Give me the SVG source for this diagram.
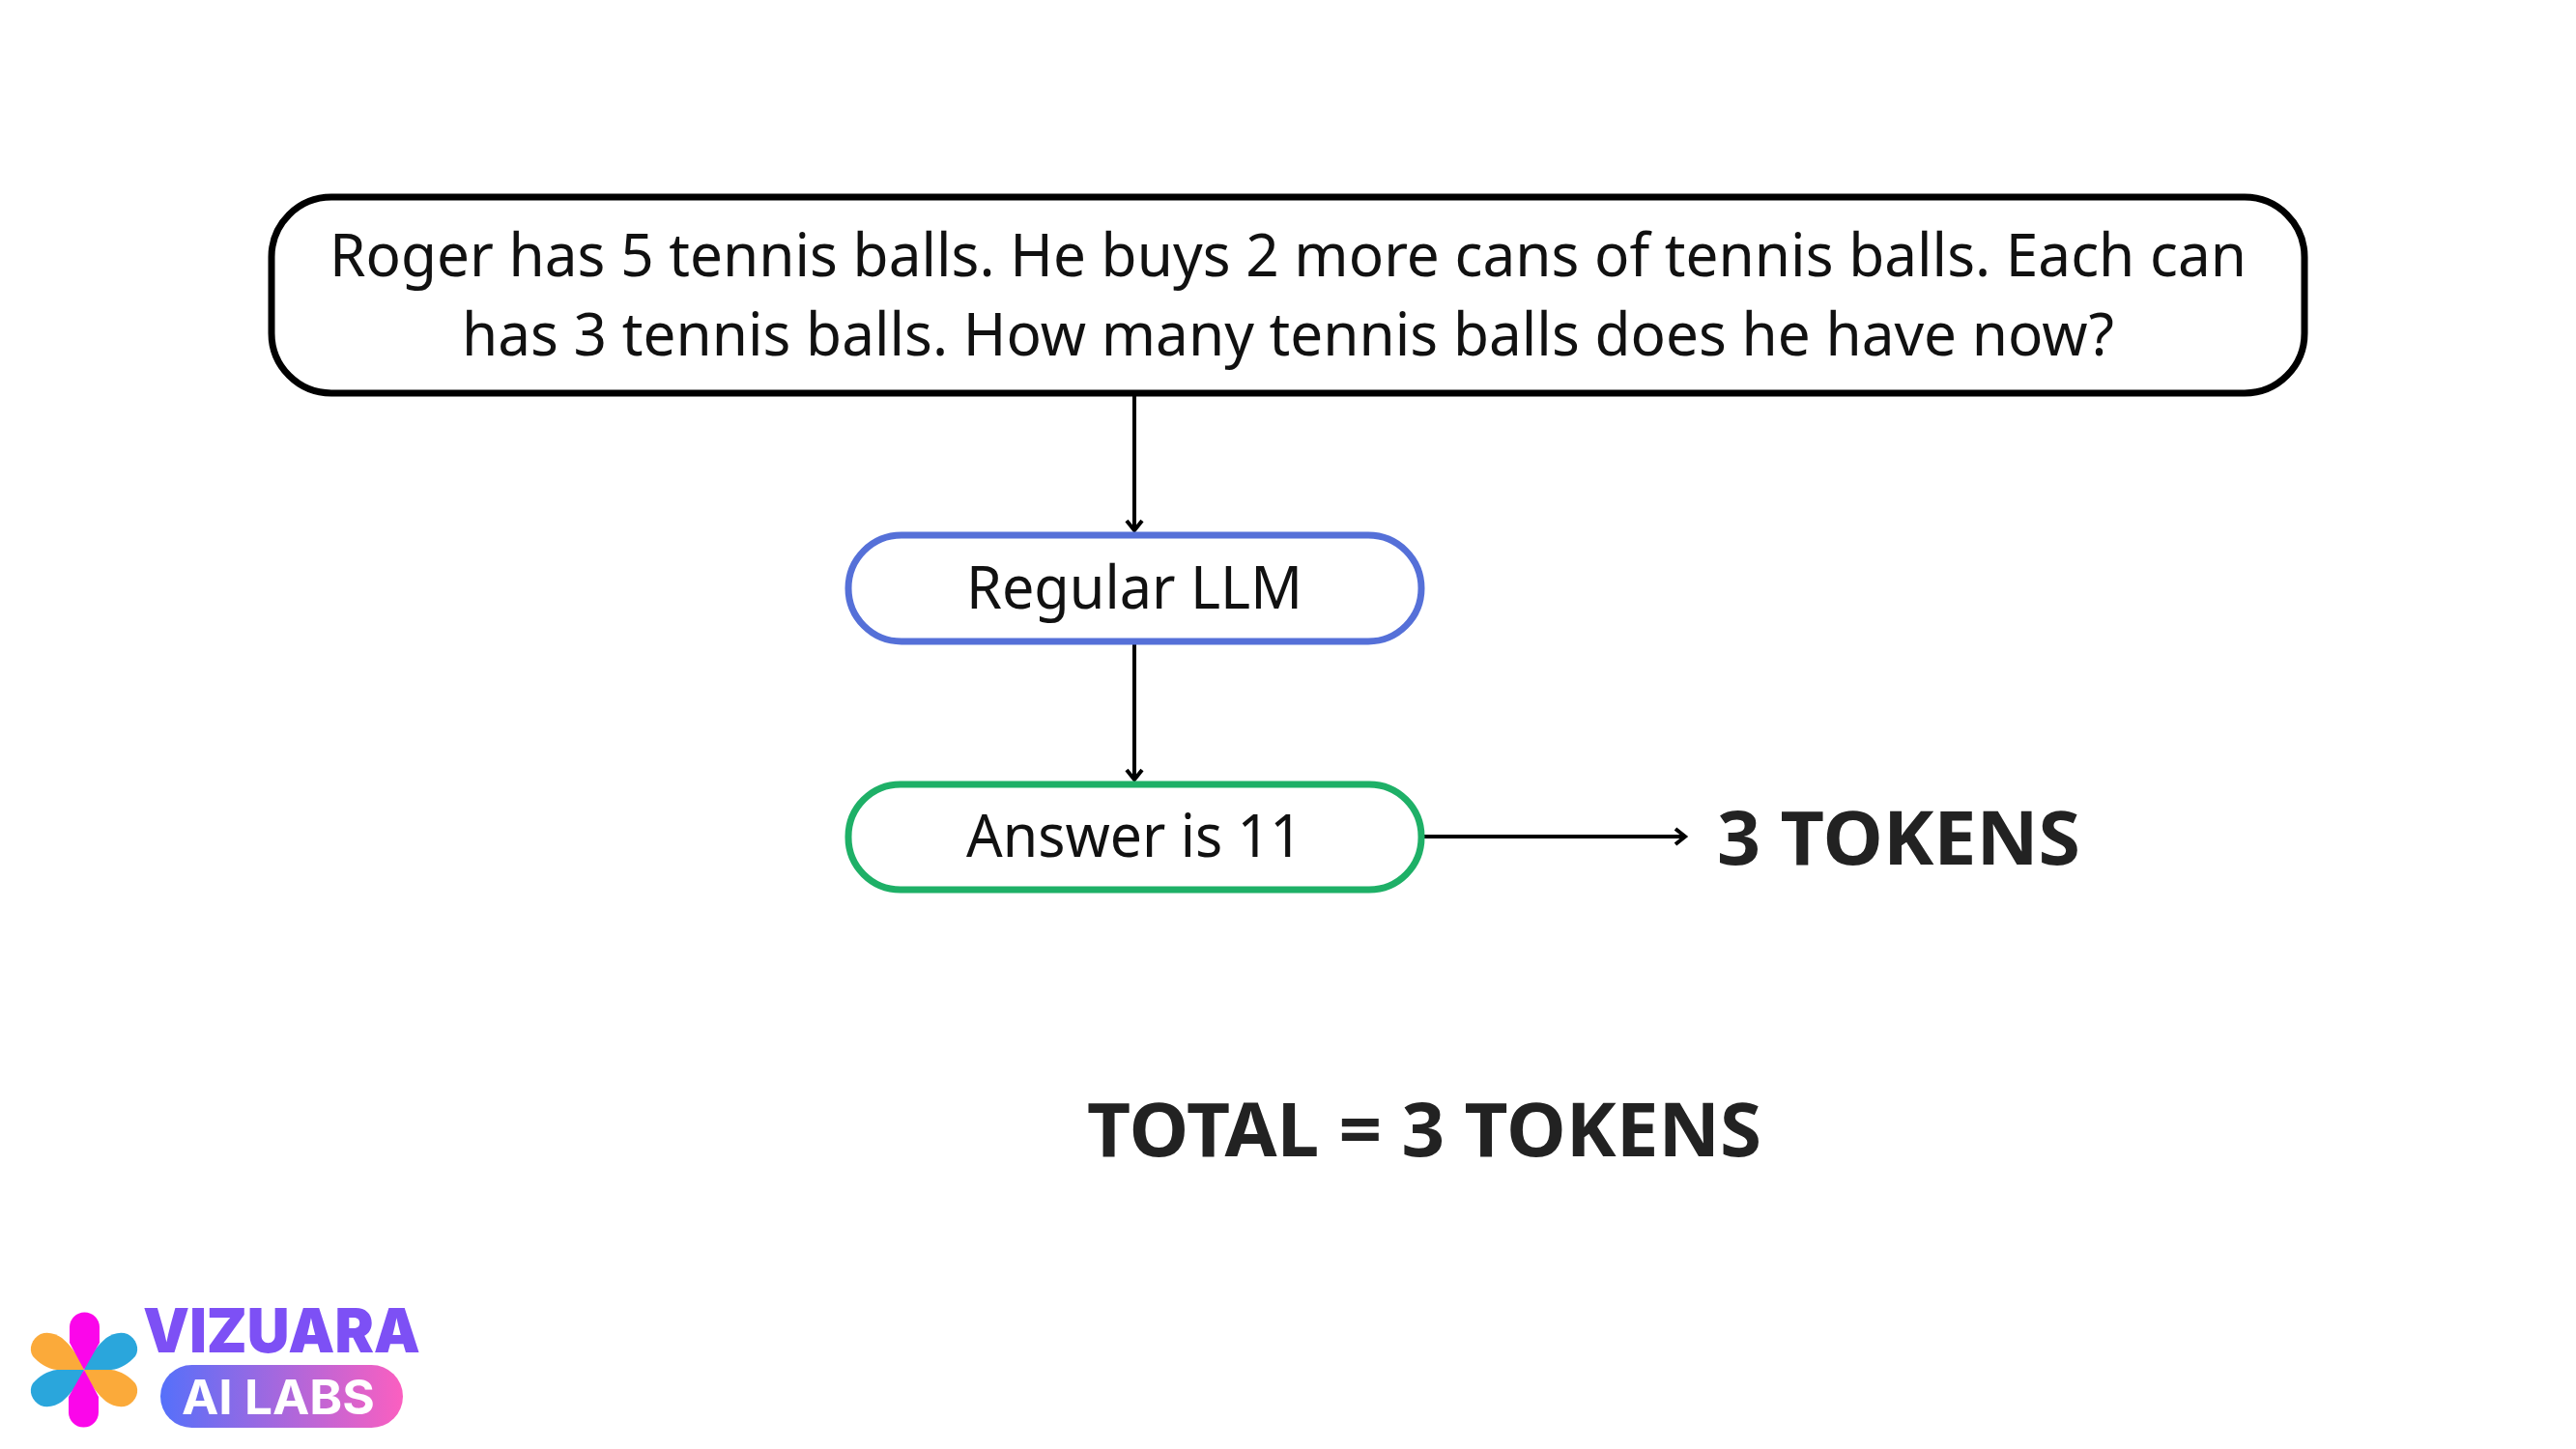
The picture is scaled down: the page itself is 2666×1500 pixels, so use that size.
<svg xmlns="http://www.w3.org/2000/svg" width="2666" height="1500" viewBox="0 0 2666 1500">
<style>
.b{fill:#fff;stroke-width:7}
.t{font-family:"Noto Sans","Open Sans",sans-serif;font-size:62px;fill:#111;text-anchor:middle}
.h{font-family:"Noto Sans","Open Sans",sans-serif;font-weight:700;font-size:77px;fill:#222;text-anchor:middle}
.c{fill:none;stroke:#000;stroke-width:4;marker-end:url(#a)}
</style>
<defs>
<marker id="a" markerUnits="userSpaceOnUse" markerWidth="24" markerHeight="24" refX="16" refY="12" orient="auto"><path d="M6 4L16 12L6 20" fill="none" stroke="#000" stroke-width="4"/></marker>
<linearGradient id="g"><stop offset="0" stop-color="#5570fa"/><stop offset="1" stop-color="#fb5fc0"/></linearGradient>
<path id="m" d="M87 1418L72 1390V1374A15.5 15.5 0 0 1 103 1374V1390Z"/>
<path id="p" d="M87 1418L115 1418C125 1417 134 1411 140 1404C145 1396 141 1386 132 1381C124 1378 116 1381 110 1385C102 1392 93 1402 87 1418Z"/>
</defs>
<rect width="2666" height="1500" fill="#fff"/>
<g id="connectors">
<path class="c" d="M1174 408V549"/>
<path class="c" d="M1174 667V807"/>
<path class="c" d="M1474 866H1744"/>
</g>
<g id="question">
<rect class="b" x="281" y="204" width="2104" height="203" rx="62" stroke="#000"/>
<text class="t" x="1333" y="286" textLength="1984" lengthAdjust="spacingAndGlyphs">Roger has 5 tennis balls. He buys 2 more cans of tennis balls. Each can</text>
<text class="t" x="1333" y="368" textLength="1710" lengthAdjust="spacingAndGlyphs">has 3 tennis balls. How many tennis balls does he have now?</text>
</g>
<g id="llm">
<rect class="b" x="878" y="554" width="593" height="110" rx="55" stroke="#5570d8"/>
<text class="t" x="1174" y="630" textLength="348" lengthAdjust="spacingAndGlyphs">Regular LLM</text>
</g>
<g id="answer">
<rect class="b" x="878" y="812" width="593" height="109" rx="54" stroke="#1eb067"/>
<text class="t" x="1174" y="887" textLength="348" lengthAdjust="spacingAndGlyphs">Answer is 11</text>
</g>
<g id="tokens"><text class="h" x="1965" y="895" textLength="376" lengthAdjust="spacingAndGlyphs">3 TOKENS</text></g>
<g id="total"><text class="h" x="1474" y="1197" textLength="698" lengthAdjust="spacingAndGlyphs">TOTAL = 3 TOKENS</text></g>
<g id="logo">
<use href="#p" fill="#2aa6dc"/>
<use href="#p" fill="#2aa6dc" transform="rotate(180 87 1418)"/>
<use href="#p" fill="#fbaa3a" transform="matrix(-1 0 0 1 174 0)"/>
<use href="#p" fill="#fbaa3a" transform="matrix(1 0 0 -1 0 2836)"/>
<use href="#m" fill="#fb06ea"/>
<use href="#m" fill="#fb06ea" transform="rotate(180 87 1418)"/>
<text x="148" y="1400" font-family="Inter,sans-serif" font-weight="900" font-size="63" fill="#7d50f5" textLength="287" lengthAdjust="spacingAndGlyphs">VIZUARA</text>
<rect x="166" y="1413" width="251" height="65" rx="32.5" fill="url(#g)"/>
<text x="188" y="1464" font-family="Inter,sans-serif" font-weight="700" font-size="50" fill="#fff" textLength="200" lengthAdjust="spacingAndGlyphs">AI LABS</text>
</g>
</svg>
